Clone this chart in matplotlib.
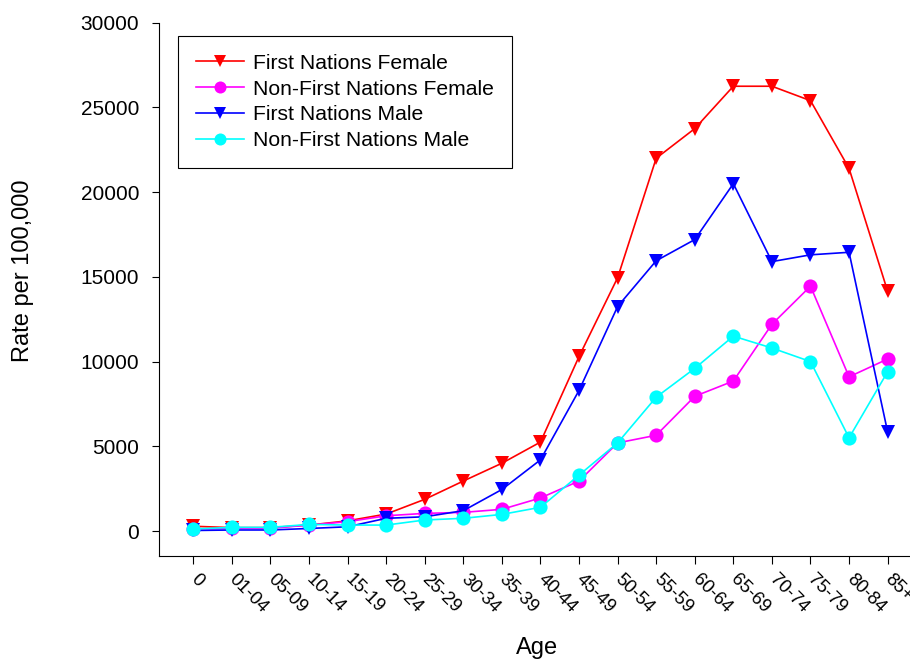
import matplotlib
matplotlib.use("Agg")
import matplotlib.pyplot as plt

plt.rcParams['font.family'] = ['Liberation Sans', 'DejaVu Sans']

ages = ['0', '01-04', '05-09', '10-14', '15-19', '20-24', '25-29', '30-34', '35-39',
        '40-44', '45-49', '50-54', '55-59', '60-64', '65-69', '70-74', '75-79',
        '80-84', '85+']
fn_female = [280, 200, 200, 350, 600, 1000, 1870, 2950, 4000, 5250, 10300, 14950,
             22000, 23750, 26250, 26250, 25400, 21400, 14150]
nfn_female = [100, 160, 160, 350, 550, 900, 1040, 1100, 1280, 1950, 2950, 5200,
              5650, 7950, 8850, 12200, 14450, 9100, 10150]
fn_male = [30, 60, 60, 150, 250, 750, 840, 1200, 2450, 4200, 8300, 13250,
           15950, 17200, 20500, 15900, 16300, 16450, 5850]
nfn_male = [120, 215, 215, 390, 350, 350, 650, 750, 980, 1400, 3300, 5200,
            7900, 9600, 11500, 10800, 10000, 5500, 9400]
yticks = [0, 5000, 10000, 15000, 20000, 25000, 30000]

fig = plt.figure(figsize=(9.1, 6.63), dpi=100)
ax = fig.add_axes([159 / 910, 1 - 556 / 663, 751 / 910, (556 - 22.7) / 663])

x = list(range(len(ages)))
series = [
    (fn_female, 'First Nations Female', '#ff0000', 'v', 9.7),
    (nfn_female, 'Non-First Nations Female', '#ff00ff', 'o', 10.2),
    (fn_male, 'First Nations Male', '#0000ff', 'v', 9.7),
    (nfn_male, 'Non-First Nations Male', '#00ffff', 'o', 10.2),
]
for vals, lab, col, mk, ms in series:
    ax.plot(x, vals, color=col, marker=mk, markersize=ms, linewidth=1.2,
            markeredgewidth=0, label=lab, clip_on=False)

ax.set_xlim(-0.89, 18.58)
ax.set_ylim(-1475, 30000)
ax.set_yticks(yticks)
ax.set_yticklabels([str(v) for v in yticks], fontsize=15)
ax.set_xticks(x)
ax.set_xticklabels(ages, fontsize=13.3, rotation=-45, ha='left', va='center',
                   rotation_mode='anchor')

ax.spines['top'].set_visible(False)
ax.spines['right'].set_visible(False)
for s in ('left', 'bottom'):
    ax.spines[s].set_linewidth(0.8)
    ax.spines[s].set_color('black')
ax.tick_params(axis='y', direction='out', length=5, width=0.8, pad=9.4)
ax.tick_params(axis='x', direction='out', length=5.8, width=0.8, pad=9.5)

ax.set_ylabel('Rate per 100,000', fontsize=17, va='center')
ax.yaxis.set_label_coords((22.7 - 159) / 751, (556 - 271) / 533.3)
ax.set_xlabel('Age', fontsize=17, va='baseline')
ax.xaxis.set_label_coords(0.503, (556 - 654) / 533.3)

leg = ax.legend(loc='upper left', bbox_to_anchor=((178.3 - 159) / 751, (556 - 35.7) / 533.3),
                borderaxespad=0, fontsize=15.2, frameon=True, fancybox=False,
                edgecolor='black', framealpha=1, borderpad=0.86, labelspacing=0.32,
                handlelength=2.25, handletextpad=0.42, markerscale=0.85)
leg.get_frame().set_linewidth(0.8)

fig.savefig('out.png', dpi=100)
